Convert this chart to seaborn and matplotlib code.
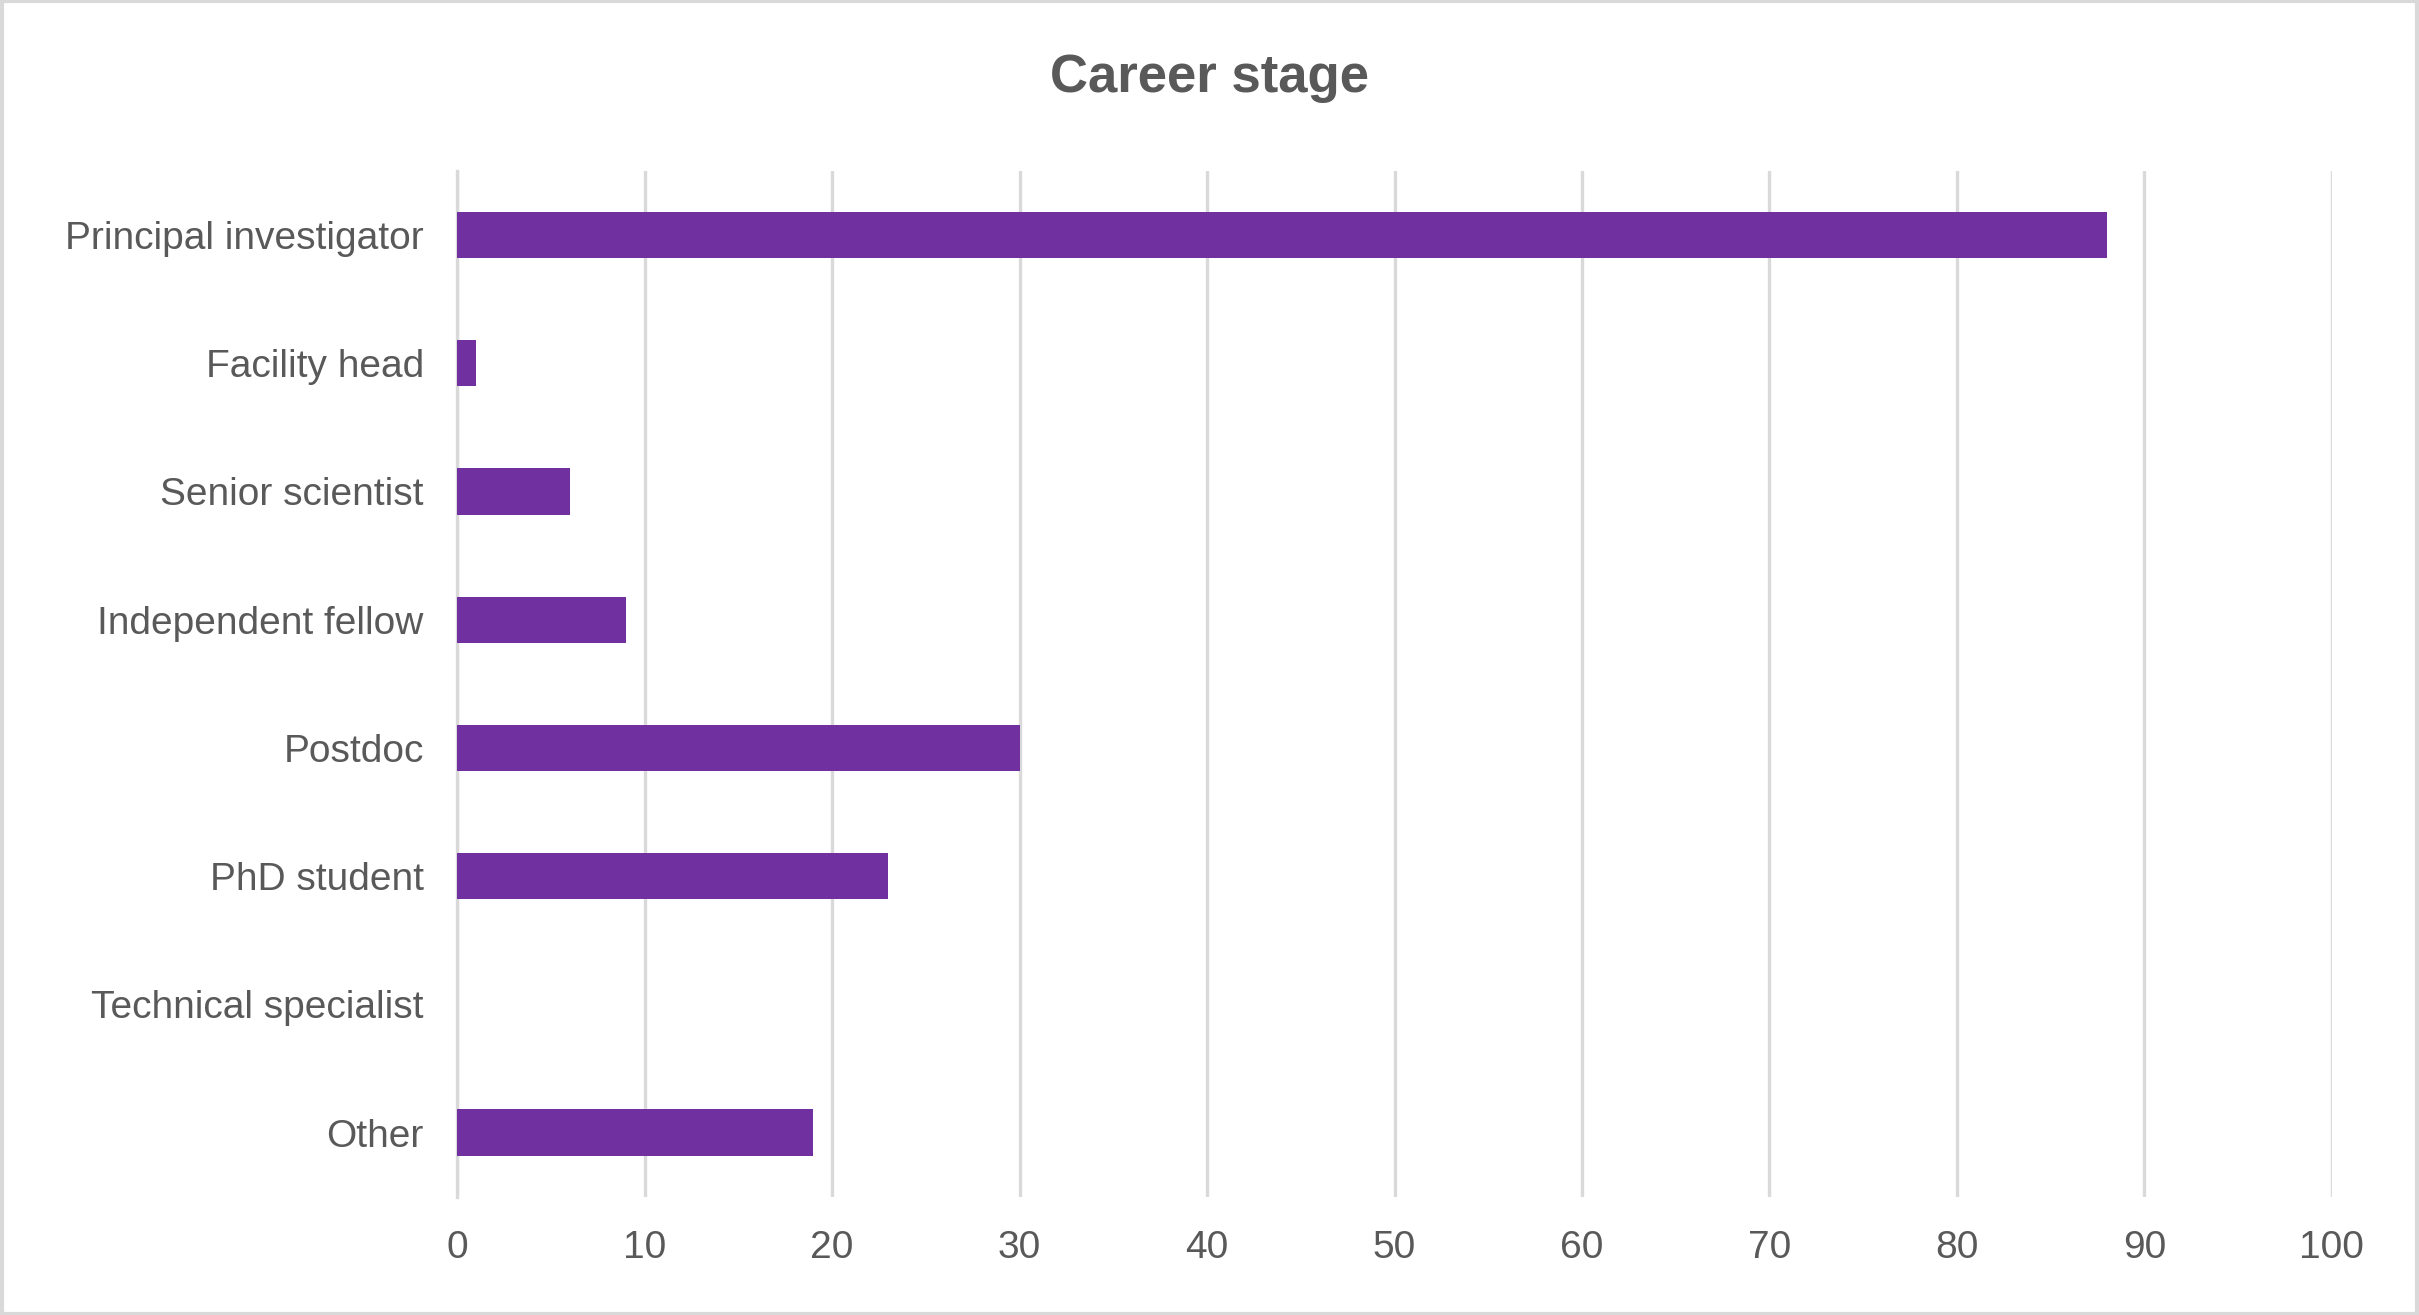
import matplotlib
matplotlib.use("Agg")
import matplotlib.pyplot as plt
import seaborn as sns
import pandas as pd

categories = ["Principal investigator", "Facility head", "Senior scientist",
              "Independent fellow", "Postdoc", "PhD student",
              "Technical specialist", "Other"]
counts = [88, 1, 6, 9, 30, 23, 0, 19]
x_ticks = [0, 10, 20, 30, 40, 50, 60, 70, 80, 90, 100]

df = pd.DataFrame({"stage": categories, "count": counts})

plt.rcParams["font.family"] = "Liberation Sans"
fig = plt.figure(figsize=(12.095, 6.575), dpi=200)
ax = fig.add_axes([0.189, 0.09, 0.775, 0.78])

sns.barplot(data=df, y="stage", x="count", color="#7030A0", saturation=1,
            width=0.36, ax=ax, zorder=3)

ax.set_xlim(0, 100)
ax.set_xticks(x_ticks)
ax.set_ylim(7.5, -0.5)
ax.grid(axis="x", color="#D9D9D9", linewidth=1.2, zorder=0)
ax.set_axisbelow(True)
for s in ["top", "right", "bottom"]:
    ax.spines[s].set_visible(False)
ax.spines["left"].set_color("#D9D9D9")
ax.spines["left"].set_linewidth(1.2)
ax.tick_params(length=0, labelsize=14, colors="#595959", pad=12)
ax.set_xlabel("")
ax.set_ylabel("")

fig.suptitle("Career stage", y=0.96, fontsize=19, fontweight="bold", color="#595959")
fig.patches.append(plt.Rectangle((0.001, 0.001), 0.998, 0.998, transform=fig.transFigure,
                                 fill=False, edgecolor="#D9D9D9", linewidth=1.5))

fig.savefig("out.png", dpi=200, facecolor="white")
